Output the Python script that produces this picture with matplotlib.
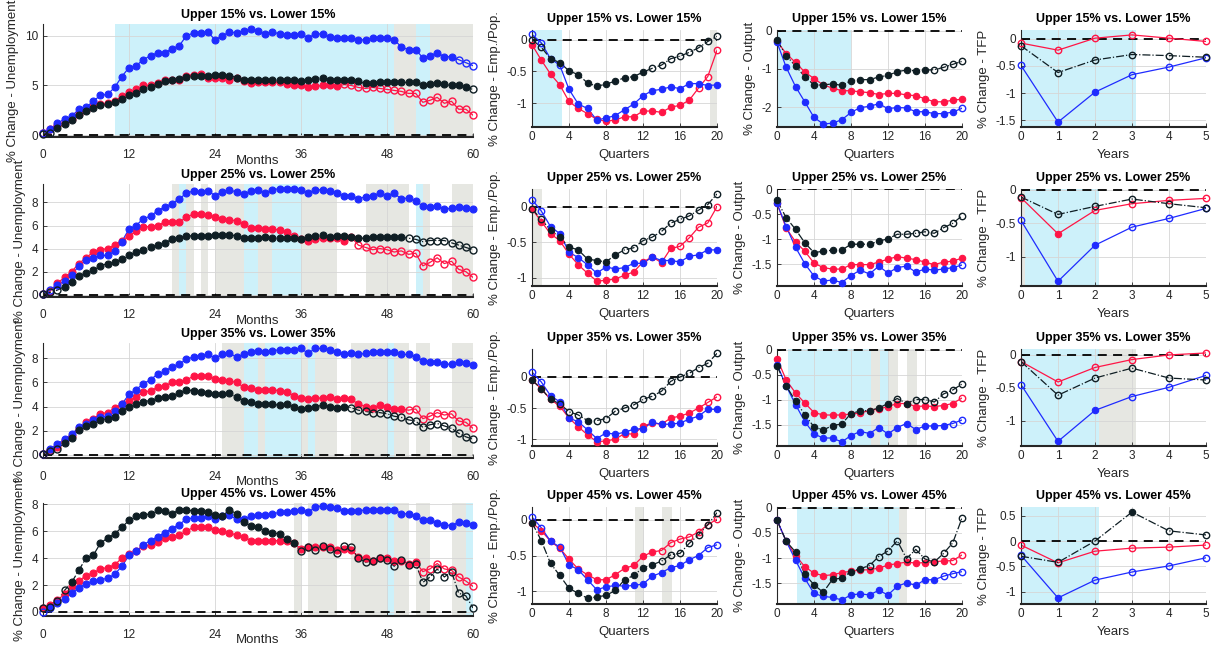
import numpy as np
import matplotlib
matplotlib.use("Agg")
import matplotlib.pyplot as plt
from matplotlib.ticker import FuncFormatter

plt.rcParams["font.family"] = ["Liberation Sans", "DejaVu Sans"]
plt.rcParams["axes.unicode_minus"] = False

BLUE = "#1f2bff"
RED = "#ff1546"
BLACK = "#0f1e24"
SKY = "#cdf1fa"
GREY = "#e6e7e2"

months = np.arange(61)
quarters = np.arange(21)
years = np.arange(6)
groups = ["15", "25", "35", "45"]

# ---- unemployment (monthly) ----
unemp_blue_15 = [0.2, 0.6, 1.2, 1.6, 1.9, 2.6, 2.8, 3.4, 4.0, 4.1,
                 4.8, 5.9, 6.8, 7.0, 7.6, 8.0, 8.3, 8.3, 8.7, 9.0,
                 10.0, 10.3, 10.3, 10.4, 9.6, 10.0, 10.4, 10.3, 10.5, 10.7,
                 10.5, 10.2, 10.4, 10.2, 10.1, 10.1, 10.2, 9.8, 10.2, 10.2,
                 9.9, 9.8, 9.8, 9.8, 9.6, 9.6, 9.8, 9.8, 9.8, 9.6,
                 8.9, 8.6, 8.6, 7.8, 8.0, 8.3, 7.9, 7.9, 7.6, 7.3, 7.0]
unemp_red_15 = [0.2, 0.6, 1.0, 1.3, 1.6, 2.1, 2.5, 2.9, 3.1, 3.2,
                3.4, 3.9, 4.3, 4.6, 5.0, 5.0, 5.2, 5.5, 5.5, 5.6,
                6.0, 6.1, 6.2, 5.8, 5.8, 5.8, 5.6, 5.8, 5.4, 5.2,
                5.3, 5.3, 5.3, 5.3, 5.1, 5.0, 5.0, 4.8, 4.9, 5.0,
                5.0, 4.9, 5.1, 5.0, 4.8, 4.7, 4.8, 4.7, 4.6, 4.5,
                4.4, 4.2, 4.2, 3.3, 3.5, 3.8, 3.2, 3.4, 2.6, 2.6, 2.0]
unemp_black_15 = [0.1, 0.2, 0.7, 1.1, 1.5, 2.0, 2.4, 2.7, 3.0, 3.1,
                  3.3, 3.6, 4.0, 4.2, 4.6, 4.8, 5.1, 5.4, 5.6, 5.7,
                  5.9, 6.0, 6.0, 6.0, 6.1, 6.1, 6.0, 5.8, 5.6, 5.6,
                  5.6, 5.6, 5.6, 5.6, 5.6, 5.5, 5.4, 5.5, 5.7, 5.8,
                  5.6, 5.6, 5.5, 5.5, 5.4, 5.2, 5.2, 5.3, 5.3, 5.3,
                  5.3, 5.3, 5.3, 5.0, 5.1, 5.2, 5.1, 5.0, 5.0, 4.8, 4.6]
unemp_blue_15_open = [0, 58, 59, 60]
unemp_red_15_open = [0] + list(range(42, 61))
unemp_black_15_open = [0, 1, 60]
unemp_shade_15 = [("b", 10, 49), ("g", 49, 52), ("b", 52, 54), ("g", 54, 60)]

unemp_blue_25 = [0.1, 0.4, 0.8, 1.2, 1.7, 2.5, 3.0, 3.2, 3.4, 3.4,
                 3.8, 4.6, 5.7, 6.0, 6.6, 6.8, 7.3, 7.6, 7.9, 8.3,
                 8.8, 9.0, 8.9, 9.0, 8.6, 8.9, 9.1, 8.9, 8.7, 9.0,
                 9.1, 8.8, 9.1, 9.2, 9.2, 9.2, 9.1, 8.8, 9.1, 9.1,
                 9.0, 8.8, 8.6, 8.6, 8.3, 8.5, 8.6, 8.8, 8.6, 8.8,
                 8.3, 8.4, 8.1, 7.7, 7.6, 7.7, 7.4, 7.5, 7.6, 7.5, 7.4]
unemp_red_25 = [0.1, 0.3, 1.0, 1.5, 2.0, 2.7, 3.2, 3.7, 3.9, 4.0,
                4.3, 4.7, 5.1, 5.5, 5.9, 5.9, 6.0, 6.3, 6.3, 6.3,
                6.7, 7.0, 7.0, 6.9, 6.7, 6.6, 6.5, 6.4, 6.1, 5.8,
                5.8, 5.7, 5.7, 5.6, 5.4, 5.1, 4.8, 4.7, 4.8, 4.9,
                4.9, 4.9, 4.7, 5.0, 4.3, 4.1, 3.9, 4.0, 3.9, 3.7,
                3.8, 3.5, 3.6, 2.5, 2.8, 3.2, 2.7, 2.9, 2.2, 2.0, 1.5]
unemp_black_25 = [0.1, 0.2, 0.4, 0.7, 1.1, 1.6, 1.9, 2.1, 2.5, 2.7,
                  2.8, 3.1, 3.4, 3.7, 3.9, 4.1, 4.3, 4.5, 4.8, 4.9,
                  5.1, 5.1, 5.1, 5.1, 5.2, 5.2, 5.2, 5.1, 4.9, 4.9,
                  4.9, 5.0, 4.9, 4.9, 4.9, 4.9, 4.8, 5.0, 5.1, 5.2,
                  5.0, 5.1, 5.1, 5.0, 4.9, 4.9, 5.0, 5.0, 5.0, 5.0,
                  5.0, 4.9, 4.8, 4.6, 4.7, 4.7, 4.7, 4.5, 4.3, 4.1, 3.9]
unemp_blue_25_open = [0, 1]
unemp_red_25_open = [0, 1] + list(range(44, 61))
unemp_black_25_open = [0, 1, 2] + list(range(51, 61))
unemp_shade_25 = [("g", 18, 19), ("b", 19, 20), ("g", 20, 21), ("g", 22, 23),
                  ("g", 24, 28), ("b", 28, 30), ("g", 30, 32), ("b", 32, 36),
                  ("g", 36, 41), ("g", 45, 51), ("b", 52, 53), ("g", 53, 54),
                  ("g", 57, 60)]

unemp_blue_35 = [0.1, 0.5, 0.9, 1.3, 1.7, 2.3, 2.6, 2.9, 3.1, 3.2,
                 3.6, 4.2, 5.0, 5.4, 5.9, 6.2, 6.7, 6.9, 7.3, 7.5,
                 7.9, 8.1, 8.2, 8.3, 8.0, 8.3, 8.4, 8.1, 8.3, 8.5,
                 8.6, 8.5, 8.6, 8.7, 8.7, 8.7, 8.8, 8.4, 8.8, 8.8,
                 8.7, 8.5, 8.3, 8.4, 8.3, 8.4, 8.5, 8.5, 8.5, 8.5,
                 8.3, 8.3, 8.1, 7.8, 7.7, 7.7, 7.5, 7.5, 7.7, 7.6, 7.4]
unemp_red_35 = [0.1, 0.4, 0.7, 1.2, 1.6, 2.2, 2.7, 3.0, 3.4, 3.5,
                3.9, 4.2, 4.5, 4.8, 5.2, 5.3, 5.6, 5.7, 6.0, 6.0,
                6.2, 6.5, 6.5, 6.5, 6.3, 6.2, 6.1, 6.0, 5.6, 5.5,
                5.4, 5.4, 5.4, 5.3, 5.2, 4.9, 4.7, 4.6, 4.7, 4.7,
                4.8, 4.6, 4.7, 4.6, 4.2, 4.0, 3.9, 4.1, 4.0, 3.8,
                3.8, 3.7, 3.8, 3.0, 3.2, 3.5, 3.3, 3.4, 2.8, 2.7, 2.2]
unemp_black_35 = [0.1, 0.3, 0.5, 1.0, 1.4, 2.1, 2.4, 2.6, 2.9, 3.0,
                  3.1, 3.6, 4.0, 4.2, 4.4, 4.5, 4.7, 4.8, 4.9, 5.1,
                  5.4, 5.3, 5.2, 5.1, 5.0, 5.0, 5.1, 4.8, 4.5, 4.4,
                  4.2, 4.2, 4.2, 4.1, 4.2, 4.0, 3.8, 3.9, 4.0, 4.1,
                  4.0, 3.9, 4.0, 3.9, 3.7, 3.6, 3.5, 3.5, 3.4, 3.2,
                  3.1, 2.9, 2.8, 2.3, 2.5, 2.6, 2.4, 2.2, 1.8, 1.5, 1.3]
unemp_blue_35_open = [0]
unemp_red_35_open = [0, 1] + list(range(51, 61))
unemp_black_35_open = [0, 1, 2] + list(range(43, 61))
unemp_shade_35 = [("g", 25, 28), ("b", 28, 30), ("g", 30, 31), ("b", 31, 36),
                  ("g", 36, 37), ("b", 37, 38), ("g", 38, 41), ("g", 43, 48),
                  ("b", 48, 49), ("g", 49, 51), ("g", 52, 54), ("g", 57, 60)]

unemp_blue_45 = [0.0, 0.3, 0.7, 1.0, 1.4, 1.8, 2.1, 2.3, 2.4, 2.5,
                 2.8, 3.4, 4.2, 4.5, 5.0, 5.3, 5.6, 5.9, 6.2, 6.5,
                 6.9, 7.0, 7.0, 7.1, 6.9, 7.1, 7.2, 6.9, 6.9, 7.1,
                 7.2, 7.2, 7.3, 7.4, 7.4, 7.5, 7.6, 7.4, 7.8, 7.9,
                 7.8, 7.7, 7.5, 7.5, 7.5, 7.6, 7.6, 7.6, 7.6, 7.6,
                 7.3, 7.3, 7.1, 6.8, 6.8, 6.6, 6.5, 6.4, 6.7, 6.6, 6.5]
unemp_red_45 = [0.3, 0.5, 0.9, 1.3, 1.9, 2.3, 2.7, 2.9, 3.2, 3.3,
                3.5, 4.0, 4.3, 4.5, 4.9, 5.0, 5.2, 5.5, 5.6, 5.7,
                6.0, 6.3, 6.3, 6.3, 6.1, 6.0, 5.9, 5.7, 5.6, 5.3,
                5.3, 5.3, 5.3, 5.3, 5.3, 5.1, 4.7, 4.8, 4.8, 4.8,
                4.8, 4.6, 4.7, 4.6, 4.1, 4.0, 3.8, 4.0, 4.0, 3.8,
                3.8, 3.6, 3.7, 3.0, 3.2, 3.6, 3.2, 3.1, 2.6, 2.3, 1.9]
unemp_black_45 = [0.3, 0.4, 0.8, 1.6, 2.2, 3.1, 4.0, 4.2, 5.1, 5.5,
                  5.8, 6.3, 6.8, 7.1, 7.2, 7.3, 7.6, 7.5, 7.3, 7.6,
                  7.6, 7.5, 7.5, 7.4, 7.2, 7.1, 7.6, 7.3, 6.7, 6.4,
                  6.3, 6.0, 5.9, 5.8, 5.4, 5.1, 4.5, 4.8, 4.6, 4.9,
                  4.7, 4.4, 4.9, 4.8, 4.0, 3.7, 3.8, 4.0, 3.9, 3.4,
                  3.9, 3.5, 3.6, 2.2, 2.6, 3.2, 2.6, 3.0, 1.4, 1.2, 0.3]
unemp_blue_45_open = [0]
unemp_red_45_open = list(range(53, 61))
unemp_black_45_open = [0, 1, 2, 3] + list(range(36, 61))
unemp_shade_45 = [("g", 35, 36), ("g", 37, 41), ("g", 43, 48), ("b", 48, 49),
                  ("g", 49, 51), ("g", 52, 54), ("g", 57, 59), ("b", 59, 60)]

# ---- employment / population (quarterly) ----
emp_blue_15 = [0.08, -0.05, -0.30, -0.40, -0.78, -1.01, -1.08, -1.26, -1.23, -1.19, -1.10,
               -1.01, -0.88, -0.80, -0.78, -0.74, -0.77, -0.69, -0.69, -0.72, -0.71]
emp_red_15 = [-0.08, -0.32, -0.54, -0.71, -0.97, -1.08, -1.16, -1.25, -1.28, -1.26, -1.21,
              -1.21, -1.12, -1.12, -1.14, -1.06, -1.03, -0.95, -0.76, -0.58, -0.17]
emp_black_15 = [0.00, -0.12, -0.30, -0.36, -0.49, -0.55, -0.68, -0.73, -0.70, -0.65, -0.60,
                -0.58, -0.51, -0.45, -0.40, -0.30, -0.26, -0.20, -0.13, -0.03, 0.05]
emp_blue_15_open = [0, 1, 3]
emp_red_15_open = [18, 19, 20]
emp_black_15_open = [0, 1] + list(range(13, 21))
emp_shade_15 = [("b", 0, 3.2), ("g", 19.2, 20)]

emp_blue_25 = [0.10, -0.06, -0.28, -0.38, -0.64, -0.72, -0.82, -0.94, -0.85, -0.88, -0.86,
               -0.80, -0.80, -0.71, -0.76, -0.76, -0.78, -0.70, -0.68, -0.61, -0.61]
emp_red_25 = [-0.03, -0.21, -0.38, -0.48, -0.67, -0.82, -0.94, -1.05, -1.04, -1.02, -0.97,
              -0.92, -0.78, -0.71, -0.79, -0.59, -0.56, -0.44, -0.29, -0.23, 0.00]
emp_black_25 = [-0.03, -0.18, -0.33, -0.43, -0.57, -0.61, -0.74, -0.76, -0.78, -0.68, -0.61,
                -0.58, -0.48, -0.43, -0.35, -0.23, -0.18, -0.13, -0.05, 0.03, 0.18]
emp_blue_25_open = [0, 1]
emp_red_25_open = list(range(16, 21))
emp_black_25_open = [0, 1] + list(range(10, 21))
emp_shade_25 = [("g", 0, 1.1)]

emp_blue_35 = [0.08, -0.08, -0.30, -0.40, -0.66, -0.72, -0.85, -0.99, -0.90, -0.92, -0.89,
               -0.84, -0.83, -0.73, -0.76, -0.76, -0.74, -0.68, -0.63, -0.52, -0.52]
emp_red_35 = [-0.05, -0.19, -0.36, -0.47, -0.66, -0.80, -0.93, -1.04, -1.03, -1.00, -0.91,
              -0.92, -0.79, -0.74, -0.76, -0.66, -0.63, -0.58, -0.50, -0.41, -0.32]
emp_black_35 = [-0.05, -0.19, -0.36, -0.43, -0.56, -0.61, -0.70, -0.70, -0.67, -0.55, -0.50,
                -0.45, -0.36, -0.31, -0.23, -0.07, 0.00, 0.06, 0.15, 0.22, 0.38]
emp_blue_35_open = [0, 1]
emp_red_35_open = [19, 20]
emp_black_35_open = [3, 4, 5] + list(range(7, 21))
emp_shade_35 = []

emp_blue_45 = [0.04, -0.11, -0.30, -0.38, -0.63, -0.70, -0.84, -0.98, -0.94, -0.92, -0.93,
               -0.92, -0.90, -0.79, -0.74, -0.67, -0.64, -0.56, -0.50, -0.39, -0.35]
emp_red_45 = [-0.04, -0.15, -0.30, -0.40, -0.55, -0.69, -0.77, -0.84, -0.84, -0.77, -0.68,
              -0.64, -0.51, -0.45, -0.43, -0.32, -0.27, -0.24, -0.17, -0.07, 0.01]
emp_black_45 = [-0.04, -0.29, -0.61, -0.78, -0.96, -1.03, -1.10, -1.08, -1.06, -0.99, -0.84,
                -0.78, -0.67, -0.63, -0.58, -0.49, -0.47, -0.33, -0.21, -0.07, 0.10]
emp_blue_45_open = [0, 1, 3, 19, 20]
emp_red_45_open = list(range(14, 21))
emp_black_45_open = list(range(14, 21))
emp_shade_45 = [("g", 11.1, 12.1), ("g", 14.1, 15.1)]

# ---- output (quarterly) ----
out_blue_15 = [-0.30, -0.96, -1.46, -1.86, -2.27, -2.44, -2.42, -2.33, -2.14, -2.01, -1.98,
               -1.91, -2.04, -2.01, -2.02, -2.12, -2.12, -2.17, -2.17, -2.13, -2.03]
out_red_15 = [-0.28, -0.60, -0.83, -1.08, -1.25, -1.42, -1.50, -1.57, -1.57, -1.60, -1.62,
              -1.67, -1.64, -1.64, -1.68, -1.70, -1.78, -1.86, -1.86, -1.82, -1.79]
out_black_15 = [-0.25, -0.65, -0.92, -1.20, -1.42, -1.42, -1.39, -1.43, -1.31, -1.28, -1.28,
                -1.21, -1.17, -1.07, -1.03, -1.05, -1.03, -1.02, -0.96, -0.88, -0.80]
out_blue_15_open = [20]
out_red_15_open = []
out_black_15_open = [17, 18, 19, 20]
out_shade_15 = [("b", 0, 8)]

out_blue_25 = [-0.28, -0.75, -1.16, -1.49, -1.74, -1.84, -1.82, -1.87, -1.73, -1.62, -1.70,
               -1.54, -1.68, -1.57, -1.54, -1.66, -1.60, -1.62, -1.60, -1.57, -1.52]
out_red_25 = [-0.28, -0.78, -1.05, -1.24, -1.48, -1.57, -1.60, -1.60, -1.51, -1.51, -1.51,
              -1.46, -1.40, -1.35, -1.38, -1.41, -1.46, -1.51, -1.46, -1.44, -1.38]
out_black_25 = [-0.22, -0.57, -0.80, -1.07, -1.27, -1.24, -1.22, -1.22, -1.10, -1.10, -1.10,
                -1.04, -0.99, -0.90, -0.90, -0.88, -0.85, -0.88, -0.77, -0.68, -0.53]
out_blue_25_open = [20]
out_red_25_open = []
out_black_25_open = list(range(13, 21))
out_shade_25 = []

out_blue_35 = [-0.30, -0.73, -1.10, -1.44, -1.69, -1.77, -1.77, -1.85, -1.72, -1.64, -1.68,
               -1.56, -1.69, -1.56, -1.48, -1.60, -1.53, -1.53, -1.52, -1.48, -1.41]
out_red_35 = [-0.18, -0.61, -0.87, -1.07, -1.26, -1.31, -1.31, -1.31, -1.29, -1.27, -1.22,
              -1.19, -1.14, -1.08, -1.08, -1.14, -1.13, -1.14, -1.12, -1.08, -0.97]
out_black_35 = [-0.33, -0.73, -1.03, -1.30, -1.55, -1.61, -1.52, -1.49, -1.28, -1.23, -1.22,
                -1.17, -1.08, -0.98, -1.08, -1.00, -1.00, -1.05, -0.89, -0.81, -0.69]
out_blue_35_open = [19, 20]
out_red_35_open = [20]
out_black_35_open = [13, 15, 16, 17, 18, 19, 20]
out_shade_35 = [("b", 1.15, 10.2), ("g", 10.2, 11.1), ("b", 11.1, 12.1),
                ("g", 12.1, 13.1), ("g", 14.1, 15.1)]

out_blue_45 = [-0.25, -0.67, -1.04, -1.40, -1.70, -1.76, -1.78, -1.83, -1.73, -1.71, -1.73,
               -1.64, -1.73, -1.56, -1.49, -1.54, -1.43, -1.43, -1.36, -1.31, -1.27]
out_red_45 = [-0.25, -0.67, -0.95, -1.17, -1.30, -1.35, -1.33, -1.29, -1.26, -1.24, -1.23,
              -1.20, -1.14, -1.11, -1.08, -1.10, -1.09, -1.07, -1.06, -1.05, -0.94]
out_black_45 = [-0.25, -0.67, -0.88, -1.32, -1.53, -1.68, -1.42, -1.40, -1.27, -1.21, -1.15,
                -0.97, -0.86, -0.66, -1.01, -0.83, -1.02, -1.08, -0.91, -0.70, -0.21]
out_blue_45_open = [18, 19, 20]
out_red_45_open = [19, 20]
out_black_45_open = list(range(10, 21))
out_shade_45 = [("b", 2.16, 13.15), ("g", 13.15, 14.1)]

# ---- TFP (annual) ----
tfp_blue_15 = [-0.49, -1.53, -0.98, -0.66, -0.52, -0.35]
tfp_red_15 = [-0.08, -0.21, 0.01, 0.07, 0.01, -0.05]
tfp_black_15 = [-0.13, -0.62, -0.39, -0.29, -0.31, -0.34]
tfp_blue_15_open = [0, 3, 4, 5]
tfp_red_15_open = [0, 1, 2, 3, 4, 5]
tfp_black_15_open = [0, 1, 2, 3, 4, 5]
tfp_shade_15 = [("b", 0, 3.1)]

tfp_blue_25 = [-0.46, -1.37, -0.83, -0.56, -0.43, -0.28]
tfp_red_25 = [-0.12, -0.66, -0.31, -0.21, -0.16, -0.13]
tfp_black_25 = [-0.11, -0.37, -0.25, -0.14, -0.21, -0.27]
tfp_blue_25_open = [0, 3, 4, 5]
tfp_red_25_open = [0, 2, 3, 4, 5]
tfp_black_25_open = [0, 1, 2, 3, 4, 5]
tfp_shade_25 = [("g", 0, 0.1), ("b", 0.1, 2.1)]

tfp_blue_35 = [-0.45, -1.31, -0.84, -0.63, -0.49, -0.31]
tfp_red_35 = [-0.10, -0.41, -0.19, -0.07, 0.00, 0.03]
tfp_black_35 = [-0.10, -0.61, -0.35, -0.20, -0.35, -0.38]
tfp_blue_35_open = [0, 3, 4, 5]
tfp_red_35_open = [0, 1, 2, 3, 4, 5]
tfp_black_35_open = [0, 1, 2, 3, 4, 5]
tfp_shade_35 = [("b", 0, 2.1), ("g", 2.1, 3.1)]

tfp_blue_45 = [-0.28, -1.12, -0.77, -0.61, -0.49, -0.33]
tfp_red_45 = [-0.08, -0.43, -0.20, -0.14, -0.12, -0.08]
tfp_black_45 = [-0.30, -0.42, 0.00, 0.57, 0.20, 0.12]
tfp_blue_45_open = [0, 2, 3, 4, 5]
tfp_red_45_open = [0, 1, 2, 3, 4, 5]
tfp_black_45_open = [0, 1, 2, 4, 5]
tfp_shade_45 = [("b", 0, 2.1)]

unemp_ylims = [(-0.2, 11.2), (-0.2, 9.6), (-0.25, 9.25), (-0.3, 8.1)]
emp_ylims = [(-1.37, 0.15), (-1.12, 0.25), (-1.11, 0.45), (-1.18, 0.18)]
out_ylims = [(-2.52, 0.02), (-1.94, 0.01), (-1.93, 0.01), (-1.91, 0.01)]
tfp_ylims = [(-1.62, 0.16), (-1.44, 0.01), (-1.38, 0.09), (-1.24, 0.67)]

unemp_yticks = [[0, 5, 10], [0, 2, 4, 6, 8], [0, 2, 4, 6, 8], [0, 2, 4, 6, 8]]
emp_yticks = [[-1, -0.5, 0]] * 4
out_yticks = [[-2, -1, 0], [-1.5, -1, -0.5, 0], [-1.5, -1, -0.5, 0], [-1.5, -1, -0.5, 0]]
tfp_yticks = [[-1.5, -1, -0.5, 0], [-1, -0.5, 0], [-1, -0.5, 0], [-1, -0.5, 0, 0.5]]

W, H = 1213, 649
fig = plt.figure(figsize=(W / 100, H / 100), dpi=100)

col_x = [(43, 473), (532, 717), (777, 962), (1021, 1206)]
rows_big = [(24, 137), (184, 297), (343, 458), (503, 616)]
rows_small = [(30, 127), (189, 286), (349, 446), (507, 604)]


def add_ax(l, r, t, b):
    return fig.add_axes([l / W, 1 - b / H, (r - l) / W, (b - t) / H])


def draw(ax, x, prefix, g, shades, ylim, yticks, xticks, xlabel, ylabel, big):
    ns = globals()
    ms = 5 if big else 4.6
    for kind, a, b in shades:
        ax.axvspan(a, b, color=SKY if kind == "b" else GREY, lw=0, zorder=0.2)
    ax.axhline(0, color="black", lw=1.3, ls=(0, (5, 3.5)), zorder=1.5)
    for name, col, ls in [("red", RED, "-"), ("blue", BLUE, "-"), ("black", BLACK, "-.")]:
        y = np.asarray(ns[f"{prefix}_{name}_{g}"], float)
        opn = np.zeros(len(x), bool)
        opn[ns[f"{prefix}_{name}_{g}_open"]] = True
        ax.plot(x, y, color=col, ls=ls, lw=0.9, zorder=2)
        ax.plot(x[~opn], y[~opn], "o", ms=ms, mfc=col, mec=col, mew=0.8,
                ls="none", zorder=3, clip_on=False)
        ax.plot(x[opn], y[opn], "o", ms=ms, mfc="none", mec=col, mew=1.0,
                ls="none", zorder=3, clip_on=False)
    ax.set_xlim(x[0], x[-1])
    ax.set_ylim(ylim)
    ax.set_xticks(xticks)
    ax.set_yticks(yticks)
    ax.yaxis.set_major_formatter(FuncFormatter(lambda v, p: f"{v:g}"))
    ax.grid(True, color="#d6d6d6", lw=0.6)
    ax.set_axisbelow(True)
    for s in ("top", "right"):
        ax.spines[s].set_visible(False)
    ax.spines["left"].set_color("#262626")
    ax.spines["left"].set_linewidth(0.8)
    ax.spines["bottom"].set_color("#262626")
    ax.spines["bottom"].set_linewidth(1.5)
    ax.tick_params(direction="in", length=3, width=0.6, labelsize=8.5, colors="#262626")
    ax.tick_params(axis="x", pad=9 if big else 3)
    ax.set_xlabel(xlabel, fontsize=9.5, color="#262626", labelpad=-4.5 if big else 4)
    ax.set_ylabel(ylabel, fontsize=9.5, color="#262626", labelpad=4)
    ax.set_title(f"Upper {g}% vs. Lower {g}%", fontsize=9, fontweight="bold",
                 pad=4 if big else 6)


for i, g in enumerate(groups):
    ns = globals()
    ax = add_ax(*col_x[0], *rows_big[i])
    draw(ax, months, "unemp", g, ns[f"unemp_shade_{g}"], unemp_ylims[i], unemp_yticks[i],
         [0, 12, 24, 36, 48, 60], "Months", "% Change - Unemployment", True)
    ax = add_ax(*col_x[1], *rows_small[i])
    draw(ax, quarters, "emp", g, ns[f"emp_shade_{g}"], emp_ylims[i], emp_yticks[i],
         [0, 4, 8, 12, 16, 20], "Quarters", "% Change - Emp./Pop.", False)
    ax = add_ax(*col_x[2], *rows_small[i])
    draw(ax, quarters, "out", g, ns[f"out_shade_{g}"], out_ylims[i], out_yticks[i],
         [0, 4, 8, 12, 16, 20], "Quarters", "% Change - Output", False)
    ax = add_ax(*col_x[3], *rows_small[i])
    draw(ax, years, "tfp", g, ns[f"tfp_shade_{g}"], tfp_ylims[i], tfp_yticks[i],
         [0, 1, 2, 3, 4, 5], "Years", "% Change - TFP", False)

fig.savefig("out.png", dpi=100)
